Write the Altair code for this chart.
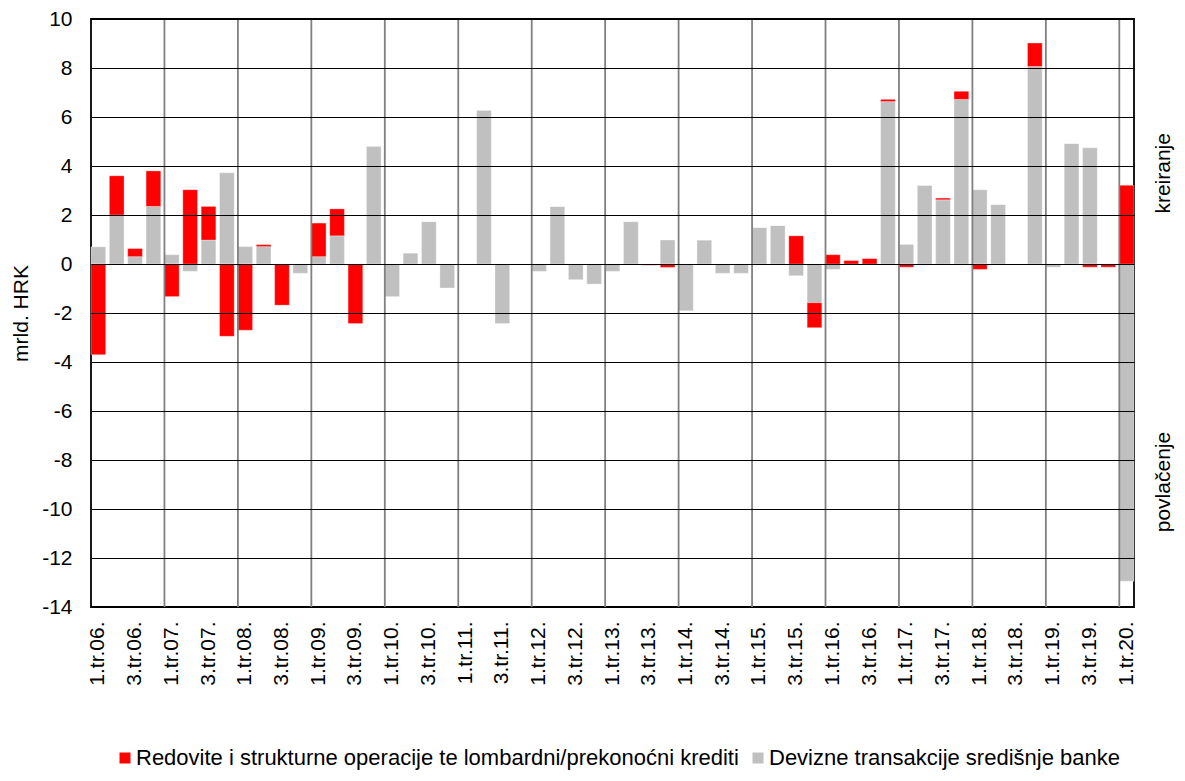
import altair as alt
import pandas as pd

years = list(range(6, 21))
quarter_labels = [f"{q}.tr.{y:02d}." for y in years for q in (1, 2, 3, 4)][:57]

fx_transactions = [
    0.7, 2.0, 0.3, 2.35, 0.38, -0.3, 0.98, 3.72,
    0.71, 0.71, 0.0, -0.38, 0.3, 1.15, 0.0, 4.81,
    -1.33, 0.45, 1.73, -0.98, 0.0, 6.28, -2.43, 0.0,
    -0.3, 2.35, -0.64, -0.82, -0.3, 1.73, 0.0, 0.98,
    -1.91, 0.98, -0.38, -0.38, 1.49, 1.57, -0.48, -1.58,
    -0.22, 0.0, 0.0, 6.63, 0.8, 3.21, 2.62, 6.72,
    3.03, 2.43, 0.0, 8.06, -0.13, 4.92, 4.74, 0.0,
    -12.95,
]
operations = [
    -3.7, 1.6, 0.33, 1.45, -1.33, 3.03, 1.37, -2.95,
    -2.7, 0.08, -1.68, 0.0, 1.37, 1.1, -2.43, 0.0,
    0.0, 0.0, 0.0, 0.0, 0.0, 0.0, 0.0, 0.0,
    0.0, 0.0, 0.0, 0.0, 0.0, 0.0, -0.05, -0.14,
    0.0, 0.0, 0.0, 0.0, 0.0, 0.0, 1.15, -1.02,
    0.38, 0.14, 0.22, 0.09, -0.13, 0.0, 0.07, 0.33,
    -0.22, 0.0, 0.0, 0.96, 0.0, 0.0, -0.13, -0.13,
    3.21,
]

series_ops = "Redovite i strukturne operacije te lombardni/prekonoćni krediti"
series_fx = "Devizne transakcije središnje banke"
side_labels = ["kreiranje", "povlačenje"]
side_label_pos = [3.7, -8.9]
y_ticks = list(range(-14, 11, 2))

rows = []
for i, q in enumerate(quarter_labels):
    rows.append({"q": q, "series": series_fx, "value": fx_transactions[i], "ord": 0})
    rows.append({"q": q, "series": series_ops, "value": operations[i], "ord": 1})
df = pd.DataFrame(rows)

label_values = [q for q in quarter_labels if q[0] in "13"]
year_starts = [q for q in quarter_labels[1:] if q.startswith("1.")]
df_grid = pd.DataFrame({"q": year_starts})
df_side = pd.DataFrame({"label": side_labels, "v": side_label_pos})

FONT = 21
xscale = alt.Scale(domain=quarter_labels, paddingInner=0.2, paddingOuter=0)
yscale = alt.Scale(domain=[-14, 10], nice=False)

x_axis = alt.Axis(values=label_values, labelAngle=270, ticks=False, tickSize=0, domain=False,
                  grid=False, labelPadding=14, labelFontSize=FONT,
                  labelColor="black", title=None)
y_axis = alt.Axis(values=y_ticks, grid=True, gridColor="black", gridWidth=1.2,
                  ticks=False, tickSize=0, domain=False, labelPadding=19, labelFontSize=FONT,
                  labelColor="black", labelExpr="'' + datum.value",
                  title="mrld. HRK", titleFontSize=FONT,
                  titleFontWeight="normal", titleColor="black", titlePadding=10,
                  zindex=1)

bars = alt.Chart(df).mark_bar(stroke="white", strokeWidth=0.5, strokeOpacity=0.6).encode(
    x=alt.X("q:N", sort=quarter_labels, scale=xscale, axis=x_axis),
    y=alt.Y("value:Q", stack="zero", scale=yscale, axis=y_axis),
    color=alt.Color("series:N",
                    scale=alt.Scale(domain=[series_ops, series_fx], range=["#ff0000", "#c0c0c0"]),
                    legend=alt.Legend(orient="none", legendX=23, legendY=728,
                                      direction="horizontal", title=None, symbolType="square",
                                      symbolSize=121, labelFontSize=22, labelLimit=1000,
                                      columnPadding=8, labelOffset=0, symbolStrokeWidth=0,
                                      labelColor="black")),
    order=alt.Order("ord:Q"),
)

vgrid = alt.Chart(df_grid).mark_rule(color="#808080", strokeWidth=1.8).encode(
    x=alt.X("q:N", sort=quarter_labels, scale=xscale, bandPosition=0, axis=x_axis),
)

side = alt.Chart(df_side).mark_text(angle=270, fontSize=FONT, align="center",
                                    baseline="middle", color="black").encode(
    x=alt.value(1073),
    y=alt.Y("v:Q", scale=yscale, axis=y_axis),
    text="label:N",
)

chart = alt.layer(bars, vgrid, side).properties(
    width=1043, height=588,
    autosize=alt.AutoSizeParams(type="none"),
    padding={"left": 83, "top": 11, "right": 42, "bottom": 164},
).configure(font="Liberation Sans").configure_view(stroke="black", strokeWidth=1.8)

chart.save("out.html", embed_options={"renderer": "svg", "actions": False})
